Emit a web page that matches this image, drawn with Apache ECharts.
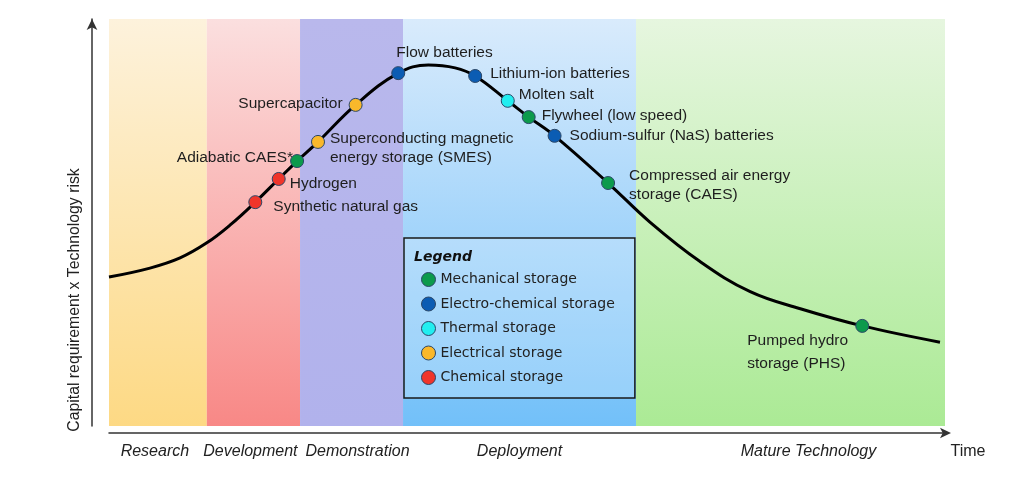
<!DOCTYPE html>
<html>
<head>
<meta charset="utf-8">
<script src="https://cdn.jsdelivr.net/npm/echarts@6/dist/echarts.min.js"></script>
<style>
html,body{margin:0;padding:0;background:#fff;}
#chart{width:1024px;height:486px;}
</style>
</head>
<body>
<div id="chart"></div>
<script>
// ---- Data ----
const phaseNames = ['Research', 'Development', 'Demonstration', 'Deployment', 'Mature Technology'];
const phaseEdges = [0, 11.7, 22.85, 35.17, 63.04, 100];

const curveX = [0, 4.9, 8.5, 11.7, 14.5, 17.5, 20.3, 22.5, 25.0, 29.5, 34.6, 38.2, 41.4, 43.8, 47.7, 50.2, 53.3, 59.7, 64.7, 70.7, 76.7, 82.7, 90.1, 99.4];
const curveY = [36.6, 38.8, 41.3, 45.0, 49.4, 55.0, 60.7, 65.1, 69.8, 78.9, 86.7, 88.7, 88.0, 86.0, 79.9, 75.9, 71.3, 59.7, 50.1, 40.4, 33.0, 28.8, 24.6, 20.6];

const techNames = ['Synthetic natural gas', 'Hydrogen', 'Adiabatic CAES*', 'Superconducting magnetic\nenergy storage (SMES)', 'Supercapacitor', 'Flow batteries', 'Lithium-ion batteries', 'Molten salt', 'Flywheel (low speed)', 'Sodium-sulfur (NaS) batteries', 'Compressed air energy\nstorage (CAES)', 'Pumped hydro\nstorage (PHS)'];
const techX = [17.5, 20.3, 22.5, 25.0, 29.5, 34.6, 43.8, 47.7, 50.2, 53.3, 59.7, 90.1];
const techY = [55.0, 60.7, 65.1, 69.8, 78.9, 86.7, 86.0, 79.9, 75.9, 71.3, 59.7, 24.6];
const techType = ['Chemical storage', 'Chemical storage', 'Mechanical storage', 'Electrical storage', 'Electrical storage', 'Electro-chemical storage', 'Electro-chemical storage', 'Thermal storage', 'Mechanical storage', 'Electro-chemical storage', 'Mechanical storage', 'Mechanical storage'];

const storageTypes = ['Mechanical storage', 'Electro-chemical storage', 'Thermal storage', 'Electrical storage', 'Chemical storage'];

const yAxisTitle = 'Capital requirement x Technology risk';
const xAxisTitle = 'Time';

// ---- Styles ----
const typeColors = {
  'Mechanical storage': '#0c9a4c',
  'Electro-chemical storage': '#0b5cb3',
  'Thermal storage': '#22eef0',
  'Electrical storage': '#f9b82b',
  'Chemical storage': '#f0352b'
};
const bandGradients = [
  ['#fdf2dc', '#fdd984'],
  ['#fbdfdf', '#f88886'],
  ['#b9b8ec', '#b1b2ec'],
  ['#d9ebfc', '#72c0f9'],
  ['#e6f6df', '#abea95']
];
const bandLabelOffsets = [[-3, 0], [-3, 0], [6, 0], [0, 0], [18, 0]];

// label placement for each technology (by index)
const labelPlace = [
  {position: 'right', distance: 11, offset: [0, 5]},
  {position: 'right', distance: 4, offset: [0, 5]},
  {position: 'left', distance: -3, offset: [0, -3]},
  {position: 'right', distance: 5, offset: [0, 6], lineHeight: 19},
  {position: 'left', distance: 6, offset: [0, -1]},
  {position: 'right', distance: 5, offset: [-14, -20]},
  {position: 'right', distance: 8, offset: [0, -2]},
  {position: 'right', distance: 4, offset: [0, -6]},
  {position: 'right', distance: 6, offset: [0, -1]},
  {position: 'right', distance: 8, offset: [0, 0]},
  {position: 'right', distance: 14, offset: [0, 2], lineHeight: 19},
  {position: 'right', distance: 5, offset: [-127, 26], lineHeight: 23}
];

const sansFamily = '"Liberation Sans", Arial, sans-serif';
const labelFont = {fontFamily: sansFamily, fontSize: 15.5, color: '#1e1e1e'};

const markAreaData = phaseNames.map((n, i) => ([
  {
    name: n,
    xAxis: phaseEdges[i],
    yAxis: 0,
    itemStyle: {
      color: {type: 'linear', x: 0, y: 0, x2: 0, y2: 1,
        colorStops: [{offset: 0, color: bandGradients[i][0]}, {offset: 1, color: bandGradients[i][1]}]}
    },
    label: {offset: bandLabelOffsets[i]}
  },
  {xAxis: phaseEdges[i + 1], yAxis: 100}
]));

const scatterSeries = storageTypes.map(t => {
  const data = [];
  techNames.forEach((n, i) => {
    if (techType[i] !== t) return;
    const p = labelPlace[i];
    data.push({
      name: n,
      value: [techX[i], techY[i]],
      label: Object.assign({show: true, formatter: '{b}'}, labelFont, p)
    });
  });
  return {
    name: t,
    type: 'scatter',
    z: 5,
    symbol: 'circle',
    symbolSize: 13,
    itemStyle: {color: typeColors[t], borderColor: '#2b4768', borderWidth: 1, opacity: 1},
    emphasis: {disabled: true},
    data
  };
});

const chart = echarts.init(document.getElementById('chart'), null, {renderer: 'canvas'});
chart.setOption({
  animation: false,
  backgroundColor: '#ffffff',
  grid: {left: 109, right: 79, top: 19, bottom: 60},
  xAxis: {
    type: 'value', min: 0, max: 100, offset: 7,
    axisLine: {show: true, onZero: false, symbol: ['none', 'arrow'], symbolSize: [8, 11], symbolOffset: [0, 6], lineStyle: {color: '#333', width: 1.5}},
    axisTick: {show: false}, axisLabel: {show: false}, splitLine: {show: false}
  },
  yAxis: {
    type: 'value', min: 0, max: 100, offset: 17,
    axisLine: {show: true, onZero: false, symbol: ['none', 'arrow'], symbolSize: [8, 11], lineStyle: {color: '#333', width: 1.5}},
    axisTick: {show: false}, axisLabel: {show: false}, splitLine: {show: false}
  },
  legend: {
    show: true,
    orient: 'vertical',
    left: 404, top: 238,
    data: storageTypes,
    icon: 'circle',
    itemWidth: 14, itemHeight: 14, itemGap: 9.5,
    padding: [34, 20, 13, 17],
    backgroundColor: 'rgba(255,255,255,0.22)',
    borderColor: '#1a1a1a', borderWidth: 1.5,
    selectedMode: false,
    itemStyle: {borderColor: '#2b4768', borderWidth: 1},
    textStyle: {fontFamily: '"DejaVu Sans", Verdana, sans-serif', fontSize: 14, lineHeight: 14, color: '#222'}
  },
  graphic: [
    {type: 'text', left: 414, top: 250, z: 100,
      style: {text: 'Legend', font: 'italic bold 14px "DejaVu Sans", Verdana, sans-serif', fill: '#111'}},
    {type: 'text', x: 75, y: 300, rotation: Math.PI / 2, z: 100,
      style: {text: yAxisTitle, font: '15.8px ' + sansFamily, fill: '#222', align: 'center', verticalAlign: 'middle'}},
    {type: 'text', x: 968, y: 452, z: 100,
      style: {text: xAxisTitle, font: '16px ' + sansFamily, fill: '#222', align: 'center', verticalAlign: 'middle'}}
  ],
  series: [
    {
      type: 'line',
      name: 'curve',
      data: curveX.map((x, i) => [x, curveY[i]]),
      smooth: 0.4,
      showSymbol: false,
      symbol: 'none',
      z: 3,
      lineStyle: {color: '#000', width: 3},
      emphasis: {disabled: true},
      markArea: {
        silent: true,
        label: {show: true, position: 'bottom', distance: 18, fontFamily: sansFamily, fontStyle: 'italic', fontSize: 16, color: '#222'},
        data: markAreaData
      }
    }
  ].concat(scatterSeries)
});
</script>
</body>
</html>
